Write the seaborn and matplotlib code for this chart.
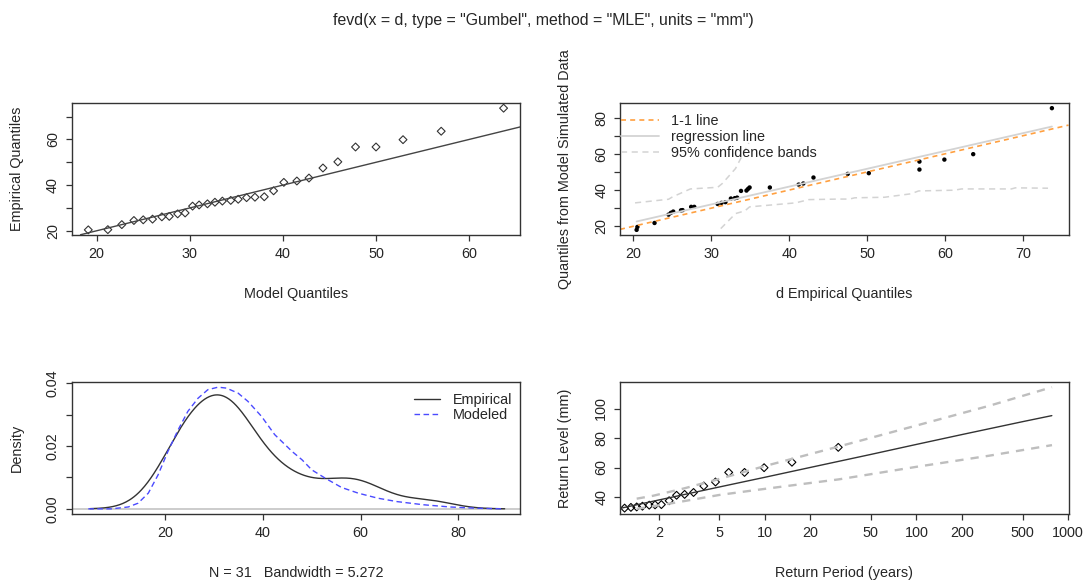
import numpy as np
import pandas as pd
import matplotlib
matplotlib.use("Agg")
import matplotlib.pyplot as plt
import seaborn as sns
from matplotlib.lines import Line2D
from matplotlib.ticker import FixedLocator, FixedFormatter, NullLocator

# --- date -----------------------------------------------------------------
# maxime anuale sortate (mm), N = 31
precip = [20.4, 20.5, 22.7, 24.5, 24.8, 25.1, 26.1, 26.3, 27.4, 27.8,
          30.8, 31.3, 31.8, 32.5, 33.0, 33.3, 33.8, 34.5, 34.7, 34.9,
          37.5, 41.2, 41.8, 43.1, 47.5, 50.2, 56.7, 56.7, 59.9, 63.6, 73.7]
# cuantile Gumbel (axa x, panoul stanga sus)
model_q = [19.1, 21.2, 22.7, 24.0, 25.0, 26.0, 27.0, 27.8, 28.7, 29.5,
           30.3, 31.0, 31.9, 32.7, 33.5, 34.4, 35.2, 36.1, 37.0, 38.0,
           39.0, 40.1, 41.5, 42.8, 44.3, 45.9, 47.8, 50.0, 52.9, 57.0, 63.7]
# cuantile din date simulate din model (panoul dreapta sus)
sim_q = [18.0, 19.6, 21.8, 26.4, 27.4, 28.1, 28.8, 28.9, 30.7, 30.7,
         32.3, 32.9, 33.3, 35.3, 35.5, 35.8, 39.5, 39.7, 40.6, 41.4,
         41.4, 43.0, 43.6, 46.9, 48.9, 49.3, 51.3, 55.7, 56.8, 59.8, 85.2]
band_up_x = [20.2, 24.5, 25.0, 27.3, 30.8, 31.4, 33.1, 34.8]
band_up_y = [32.9, 34.9, 36.2, 40.6, 41.5, 43.6, 51.9, 66.0]
band_lo_x = [31.2, 33.1, 34.3, 34.9, 35.7, 40.8, 42.5, 46.3, 47.7, 48.4,
             52.2, 55.6, 56.6, 61.2, 62.1, 68.5, 69.0, 73.2]
band_lo_y = [18.7, 27.0, 28.5, 30.7, 31.0, 32.9, 34.7, 35.0, 35.0, 35.7,
             36.0, 37.9, 39.5, 39.9, 40.6, 40.6, 41.2, 41.0]

# densitate
bandwidth = 5.272
dens_x = [4.2, 8.9, 12.4, 14.4, 16.5, 18.5, 20.5, 22.6, 24.6, 26.7, 28.7,
          30.8, 32.5, 34.9, 36.9, 39.7, 42.4, 46.0, 48.0, 50.0, 52.7, 56.1,
          59.5, 63.5, 67.5, 72.9, 78.3, 83.7, 89.3]
dens_y = [0.0, 0.0, 0.0006, 0.0018, 0.005, 0.0108, 0.0182, 0.0251, 0.031,
          0.0352, 0.0379, 0.0387, 0.0384, 0.0368, 0.0342, 0.0294, 0.0236,
          0.0182, 0.0156, 0.0124, 0.0098, 0.0068, 0.005, 0.0034, 0.0023,
          0.0013, 0.0006, 0.0002, 0.0]

# nivel de revenire
rl_period = [1.19, 1.31, 1.43, 1.56, 1.73, 1.89, 2.08, 2.34, 2.62, 2.96,
             3.39, 3.96, 4.73, 5.78, 7.35, 9.89, 15.1, 30.5]
rl_curve_t = [1.12, 2, 5, 10, 20, 50, 100, 200, 500, 780]
rl_curve = [32.4, 38.0, 46.8, 53.4, 60.1, 68.9, 75.7, 82.4, 91.1, 95.2]
ci_up_t = [1.43, 1.84, 2.97, 4.74, 10, 30.8, 100, 300, 782]
ci_up = [38.9, 40.9, 46.0, 51.6, 61.0, 74.3, 88.5, 101.8, 114.5]
ci_lo_t = [1.43, 2.6, 5.0, 9.1, 20.9, 30.8, 100, 300, 782]
ci_lo = [32.0, 36.3, 41.4, 45.0, 49.8, 52.0, 60.5, 68.0, 75.2]

titlu = 'fevd(x = d, type = "Gumbel", method = "MLE", units = "mm")'

# --- stil ------------------------------------------------------------------
sns.set_style("white")
plt.rcParams['font.family'] = ['Liberation Sans', 'DejaVu Sans']
FS = 10.4
DARK = '#333333'
LGRAY = '#d3d3d3'


def rpad(lo, hi, f=0.04):
    d = (hi - lo) * f
    return lo - d, hi + d


def stil_r(ax, xt, xl, yt, yl):
    for s in ax.spines.values():
        s.set_visible(True)
        s.set_color(DARK)
        s.set_linewidth(1.0)
    ax.xaxis.set_major_locator(FixedLocator(xt))
    ax.xaxis.set_major_formatter(FixedFormatter(xl))
    ax.yaxis.set_major_locator(FixedLocator(yt))
    ax.yaxis.set_major_formatter(FixedFormatter(yl))
    ax.xaxis.set_minor_locator(NullLocator())
    ax.yaxis.set_minor_locator(NullLocator())
    ax.tick_params(direction='out', length=4, width=0.9, color=DARK,
                   labelsize=FS, pad=4.5, bottom=True, left=True)
    plt.setp(ax.get_yticklabels(), rotation=90, va='center')


def etichete(ax, xlab, ylab):
    ax.set_xlabel(xlab, fontsize=FS)
    ax.set_ylabel(ylab, fontsize=FS)
    ax.xaxis.set_label_coords(0.5, -0.40)
    ax.yaxis.set_label_coords(-0.106, 0.5)


fig = plt.figure(figsize=(10.86, 5.81), dpi=100)
W, H = 0.413, 0.2262
ax1 = fig.add_axes([0.066, 0.596, W, H])
ax2 = fig.add_axes([0.5709, 0.596, W, H])
ax3 = fig.add_axes([0.066, 0.1158, W, H])
ax4 = fig.add_axes([0.5709, 0.1158, W, H])

# 1. QQ model vs empiric
sns.scatterplot(x=model_q, y=precip, marker='D', s=16, facecolor='none',
                edgecolor=DARK, linewidth=0.8, ax=ax1)
ax1.axline((0, 0), slope=1, color='#444444', lw=1.0)
ax1.set_xlim(*rpad(min(model_q), max(model_q)))
ax1.set_ylim(*rpad(min(precip), max(precip)))
stil_r(ax1, [20, 30, 40, 50, 60], ['20', '30', '40', '50', '60'],
       [20, 30, 40, 50, 60, 70], ['20', '', '40', '', '60', ''])
etichete(ax1, 'Model Quantiles', 'Empirical Quantiles')

# 2. QQ empiric vs simulat
sns.scatterplot(x=precip, y=sim_q, color='black', s=10, edgecolor='none', ax=ax2)
sns.lineplot(x=band_up_x, y=band_up_y, sort=False, estimator=None,
             color=LGRAY, lw=1.1, ls=(0, (4, 3)), ax=ax2)
sns.lineplot(x=band_lo_x, y=band_lo_y, sort=False, estimator=None,
             color=LGRAY, lw=1.1, ls=(0, (4, 3)), ax=ax2)
sns.regplot(x=precip, y=sim_q, scatter=False, ci=None, truncate=True,
            line_kws={'color': LGRAY, 'lw': 1.3}, ax=ax2)
ax2.axline((0, 0), slope=1, color='#ffa040', lw=1.2, ls=(0, (3, 2.5)))
ax2.set_xlim(*rpad(min(precip), max(precip)))
ax2.set_ylim(*rpad(min(sim_q), max(sim_q)))
stil_r(ax2, [20, 30, 40, 50, 60, 70], ['20', '30', '40', '50', '60', '70'],
       [20, 30, 40, 50, 60, 70, 80], ['20', '', '40', '', '60', '', '80'])
etichete(ax2, 'd Empirical Quantiles', 'Quantiles from Model Simulated Data')
h2 = [Line2D([], [], color='#ffa040', lw=1.2, ls=(0, (3, 2.5))),
      Line2D([], [], color=LGRAY, lw=1.3),
      Line2D([], [], color=LGRAY, lw=1.1, ls=(0, (4, 3)))]
ax2.legend(h2, ['1-1 line', 'regression line', '95% confidence bands'],
           loc='upper left', frameon=False, fontsize=FS, handlelength=2.6,
           handletextpad=0.8, borderaxespad=0.0, borderpad=0.1,
           labelspacing=0.15, bbox_to_anchor=(0.0, 0.93))

# 3. densitate
ax3.axhline(0, color='#c8c8c8', lw=1.3)
bw_fac = bandwidth / np.std(precip, ddof=1)
sns.kdeplot(x=precip, bw_method=bw_fac, cut=3, gridsize=512, color=DARK,
            lw=1.0, ax=ax3)
sns.lineplot(x=dens_x, y=dens_y, sort=False, estimator=None, color='#4a4aff',
             lw=1.0, ls=(0, (4, 2.5)), ax=ax3)
ax3.set_xlim(*rpad(min(dens_x), max(dens_x)))
ax3.set_ylim(*rpad(0, max(dens_y)))
stil_r(ax3, [20, 40, 60, 80], ['20', '40', '60', '80'],
       [0, 0.01, 0.02, 0.03, 0.04], ['0.00', '', '0.02', '', '0.04'])
etichete(ax3, 'N = 31   Bandwidth = 5.272', 'Density')
h3 = [Line2D([], [], color=DARK, lw=1.0),
      Line2D([], [], color='#4a4aff', lw=1.0, ls=(0, (4, 2.5)))]
ax3.legend(h3, ['Empirical', 'Modeled'], loc='upper right', frameon=False,
           fontsize=FS, handlelength=1.8, handletextpad=0.9,
           borderaxespad=0.0, borderpad=0.1, labelspacing=0.1,
           bbox_to_anchor=(0.985, 0.93))

# 4. nivel de revenire
ax4.set_xscale('log')
sns.lineplot(x=ci_up_t, y=ci_up, sort=False, estimator=None, color='#bebebe',
             lw=1.7, ls=(0, (3.5, 3)), ax=ax4)
sns.lineplot(x=ci_lo_t, y=ci_lo, sort=False, estimator=None, color='#bebebe',
             lw=1.7, ls=(0, (3.5, 3)), ax=ax4)
sns.lineplot(x=rl_curve_t, y=rl_curve, sort=False, estimator=None,
             color=DARK, lw=1.0, ax=ax4)
sns.scatterplot(x=rl_period, y=precip[-len(rl_period):], marker='D', s=16,
                facecolor='none', edgecolor='black', linewidth=0.8, ax=ax4)
ax4.set_xlim(1.11, 1005)
ax4.set_ylim(*rpad(min(ci_lo), max(ci_up)))
per = [2, 5, 10, 20, 50, 100, 200, 500, 1000]
stil_r(ax4, per, [str(p) for p in per], [40, 60, 80, 100],
       ['40', '60', '80', '100'])
etichete(ax4, 'Return Period (years)', 'Return Level (mm)')

fig.text(0.5, 1 - 20 / 581, titlu, ha='center', va='center', fontsize=11.4)

plt.savefig('out.png', dpi=100)
